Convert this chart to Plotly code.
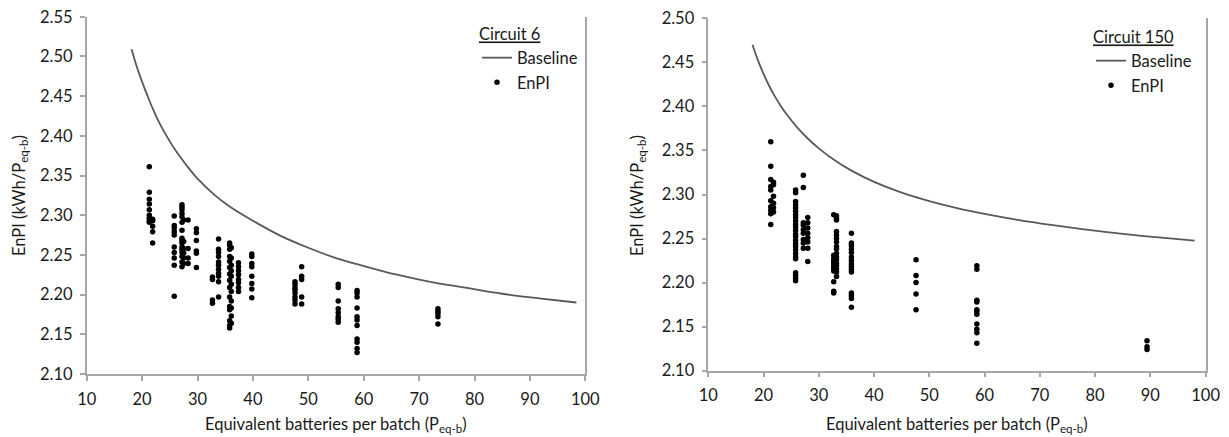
import plotly.graph_objects as go

FONT = "Lato"
TXT = "#1a1a1a"
AX = "#a6a6a6"
W, H = 1229, 437

# ---------------- Circuit 6 ----------------
c6_baseline_x = [18.1, 19, 20, 21, 22, 23, 24, 26, 28, 30, 33, 36, 40, 45, 50, 55, 60, 66, 72, 78, 85, 92, 98.4]
c6_baseline_y = [2.509, 2.488, 2.468, 2.450, 2.433, 2.418, 2.405, 2.382, 2.363, 2.346, 2.326, 2.310,
                 2.293, 2.274, 2.259, 2.246, 2.236, 2.225, 2.216, 2.209, 2.201, 2.195, 2.190]

c6_batch = [21.3, 21.9, 25.8, 27.2, 27.5, 28.3, 29.8, 32.7, 33.8, 35.8, 36.1, 37.4, 39.8, 47.6, 48.8, 55.4, 58.8, 73.4]
c6_enpi = [
    [2.361, 2.329, 2.320, 2.314, 2.307, 2.300, 2.296, 2.293, 2.291],
    [2.295, 2.293, 2.286, 2.279, 2.265],
    [2.299, 2.287, 2.284, 2.279, 2.275, 2.260, 2.253, 2.246, 2.237, 2.198],
    [2.313, 2.310, 2.307, 2.302, 2.298, 2.291, 2.281, 2.271, 2.268, 2.265, 2.260, 2.257, 2.253, 2.248, 2.241, 2.235],
    [2.294, 2.267, 2.258, 2.252, 2.246, 2.239],
    [2.294, 2.258, 2.246, 2.239],
    [2.283, 2.278, 2.268, 2.255, 2.252, 2.234],
    [2.222, 2.219, 2.193, 2.189],
    [2.270, 2.257, 2.253, 2.248, 2.241, 2.237, 2.232, 2.227, 2.223, 2.216, 2.197],
    [2.265, 2.262, 2.257, 2.248, 2.242, 2.234, 2.226, 2.218, 2.209, 2.197, 2.185, 2.181, 2.167, 2.161, 2.158],
    [2.259, 2.246, 2.237, 2.230, 2.223, 2.213, 2.204, 2.192, 2.183, 2.173, 2.164],
    [2.240, 2.235, 2.230, 2.225, 2.219, 2.215, 2.209, 2.204],
    [2.251, 2.248, 2.239, 2.235, 2.223, 2.214, 2.207, 2.196],
    [2.216, 2.213, 2.209, 2.206, 2.202, 2.197, 2.193, 2.188],
    [2.235, 2.223, 2.219, 2.197, 2.188],
    [2.213, 2.209, 2.192, 2.182, 2.177, 2.172, 2.169, 2.165],
    [2.205, 2.202, 2.197, 2.183, 2.172, 2.168, 2.161, 2.144, 2.140, 2.132, 2.127],
    [2.182, 2.179, 2.176, 2.172, 2.163],
]

# ---------------- Circuit 150 ----------------
c150_baseline_x = [18, 19, 20, 21, 22, 23, 24, 26, 28, 30, 33, 36, 40, 45, 50, 55, 60, 66, 72, 78, 85, 92, 98]
c150_baseline_y = [2.470, 2.452, 2.437, 2.4235, 2.412, 2.4017, 2.3925, 2.3768, 2.3636, 2.3524, 2.3383, 2.3268,
                   2.3143, 2.3021, 2.2925, 2.2846, 2.2780, 2.2712, 2.2655, 2.2605, 2.2553, 2.2510, 2.2477]

c150_batch = [21.3, 21.8, 25.8, 27.2, 28.0, 32.7, 33.2, 35.9, 47.6, 58.6, 89.4]
c150_enpi = [
    [2.360, 2.332, 2.317, 2.309, 2.305, 2.293, 2.286, 2.282, 2.278, 2.266],
    [2.314, 2.311, 2.298, 2.290, 2.285, 2.280],
    [2.305, 2.302, 2.292, 2.288, 2.285, 2.281, 2.277, 2.274, 2.270, 2.266, 2.263, 2.259, 2.255,
     2.252, 2.248, 2.244, 2.241, 2.237, 2.233, 2.229, 2.227, 2.211, 2.208, 2.205, 2.202],
    [2.322, 2.308, 2.268, 2.265, 2.260, 2.256, 2.249, 2.245, 2.239],
    [2.274, 2.268, 2.262, 2.256, 2.251, 2.246, 2.239, 2.224],
    [2.277, 2.231, 2.227, 2.224, 2.221, 2.218, 2.216, 2.213, 2.201, 2.190, 2.188],
    [2.276, 2.273, 2.271, 2.258, 2.254, 2.250, 2.246, 2.241, 2.238, 2.233, 2.229, 2.226, 2.222,
     2.219, 2.215, 2.212, 2.207],
    [2.256, 2.245, 2.242, 2.238, 2.234, 2.229, 2.225, 2.221, 2.218, 2.215, 2.212, 2.188, 2.185, 2.182, 2.172],
    [2.226, 2.208, 2.200, 2.187, 2.169],
    [2.219, 2.215, 2.180, 2.178, 2.169, 2.167, 2.164, 2.153, 2.147, 2.143, 2.131],
    [2.134, 2.127, 2.124],
]

x_ticks = [10, 20, 30, 40, 50, 60, 70, 80, 90, 100]
x_title = "Equivalent batteries per batch (P<sub>eq-b</sub>)"
y_title = "EnPI (kWh/P<sub>eq-b</sub>)"


def flatten(batches, groups):
    xs, ys = [], []
    for b, g in zip(batches, groups):
        for v in g:
            xs.append(b)
            ys.append(v)
    return xs, ys


fig = go.Figure()

c6x, c6y = flatten(c6_batch, c6_enpi)
c150x, c150y = flatten(c150_batch, c150_enpi)

line_style = dict(color="#595959", width=1.8, shape="spline")
mk_style = dict(color="black", size=5.5)

fig.add_trace(go.Scatter(x=c6_baseline_x, y=c6_baseline_y, mode="lines", line=line_style,
                         name="Baseline", xaxis="x", yaxis="y", legend="legend", hoverinfo="skip"))
fig.add_trace(go.Scatter(x=c6x, y=c6y, mode="markers", marker=mk_style,
                         name="EnPI", xaxis="x", yaxis="y", legend="legend"))
fig.add_trace(go.Scatter(x=c150_baseline_x, y=c150_baseline_y, mode="lines", line=line_style,
                         name="Baseline", xaxis="x2", yaxis="y2", legend="legend2", hoverinfo="skip"))
fig.add_trace(go.Scatter(x=c150x, y=c150y, mode="markers", marker=mk_style,
                         name="EnPI", xaxis="x2", yaxis="y2", legend="legend2"))

tickfont = dict(family=FONT, size=16.5, color=TXT)
common = dict(showline=True, linecolor=AX, linewidth=1.5, ticks="outside", ticklen=5,
              tickcolor=AX, tickwidth=1.5, showgrid=False, zeroline=False,
              tickfont=tickfont, automargin=False)


def px_x(p):
    return p / W


def px_y(p):
    return 1 - p / H


legend_font = dict(family=FONT, size=16.5, color=TXT)

fig.update_layout(
    width=W, height=H,
    margin=dict(l=0, r=0, t=0, b=0),
    paper_bgcolor="white", plot_bgcolor="white",
    font=dict(family=FONT, size=16.5, color=TXT),
    xaxis=dict(domain=[px_x(86.7), px_x(585.3)], range=[10, 100], tickvals=x_ticks,
               anchor="y", ticklabelstandoff=4, **common),
    yaxis=dict(domain=[px_y(374), px_y(16.7)], range=[2.0999, 2.5501], dtick=0.05, tick0=2.10,
               tickformat=".2f", anchor="x", mirror=True, ticklabelstandoff=4, **common),
    xaxis2=dict(domain=[px_x(708.3), px_x(1205.6)], range=[10, 100], tickvals=x_ticks,
                anchor="y2", ticklabelstandoff=4, **common),
    yaxis2=dict(domain=[px_y(370.7), px_y(18.3)], range=[2.0999, 2.5001], dtick=0.05, tick0=2.10,
                tickformat=".2f", anchor="x2", mirror=True, ticklabelstandoff=4, **common),
    showlegend=True,
    legend=dict(x=px_x(477), xanchor="left", y=px_y(19), yanchor="top",
                bgcolor="rgba(0,0,0,0)", traceorder="normal", tracegroupgap=0,
                font=legend_font,
                title=dict(text="<u>Circuit 6</u>", font=legend_font)),
    legend2=dict(x=px_x(1091), xanchor="left", y=px_y(22), yanchor="top",
                 bgcolor="rgba(0,0,0,0)", traceorder="normal", tracegroupgap=0,
                 font=legend_font,
                 title=dict(text="<u>Circuit 150</u>", font=legend_font)),
    annotations=[
        dict(text=y_title, xref="paper", yref="paper", x=px_x(19), y=px_y(196), textangle=-90,
             showarrow=False, xanchor="center", yanchor="middle", font=dict(family=FONT, size=16.5, color=TXT)),
        dict(text=y_title, xref="paper", yref="paper", x=px_x(637), y=px_y(196), textangle=-90,
             showarrow=False, xanchor="center", yanchor="middle", font=dict(family=FONT, size=16.5, color=TXT)),
        dict(text=x_title, xref="paper", yref="paper", x=px_x(336), y=px_y(424),
             showarrow=False, xanchor="center", yanchor="middle", font=dict(family=FONT, size=16.5, color=TXT)),
        dict(text=x_title, xref="paper", yref="paper", x=px_x(957), y=px_y(424),
             showarrow=False, xanchor="center", yanchor="middle", font=dict(family=FONT, size=16.5, color=TXT)),
    ],
)

fig.write_html("out.html")
